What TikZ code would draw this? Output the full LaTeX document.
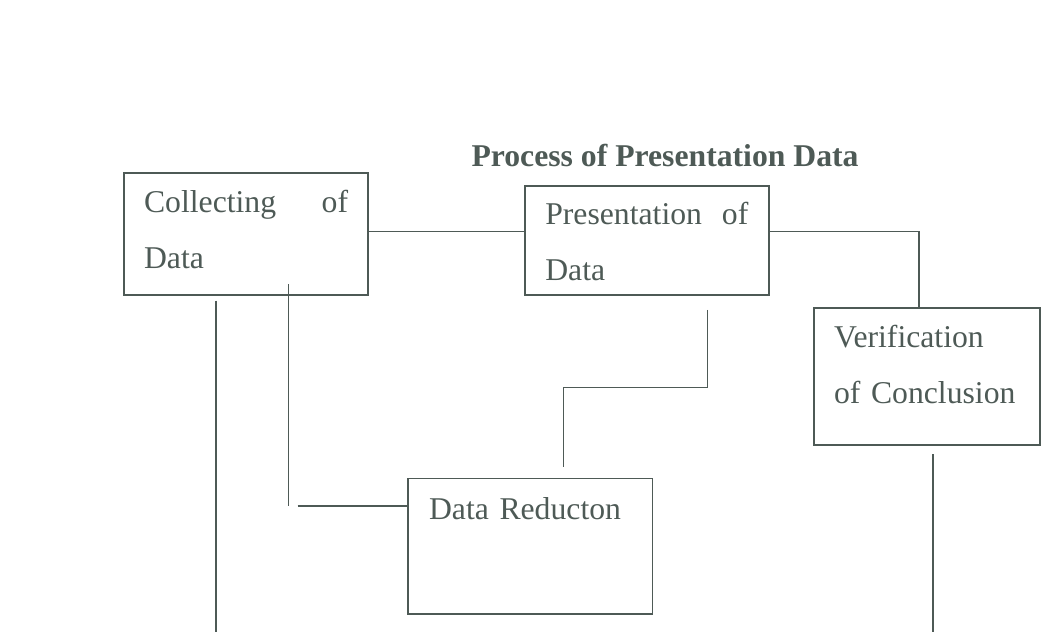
\documentclass[tikz,border=0pt]{standalone}
\usepackage{fontspec}
\setmainfont{Liberation Serif}
\usepackage{tikz}
\usetikzlibrary{positioning}
\definecolor{inkgrey}{RGB}{78,90,86}

\begin{document}
\begin{tikzpicture}[x=1pt, y=-1pt, line width=1.6pt, draw=inkgrey,
	stagebox/.style={draw=inkgrey, line width=1.6pt, anchor=north west, align=left, inner ysep=0pt,
		text=inkgrey, font=\fontsize{31.7}{56}\selectfont},
	heading/.style={anchor=base west, inner sep=0pt, text=inkgrey,
		font=\fontsize{31.7}{38}\selectfont\bfseries}]
		\useasboundingbox (0,0) rectangle (1054,632);
		\node[heading] (title) at (470.7,166.7) {Process of Presentation Data};
		\node[stagebox, inner xsep=20pt, text width=204pt, text height=40pt, text depth=82pt]
			(coll) at (123.3,172) {Collecting\hspace{0pt plus 1filll}of\\Data};
		\node[stagebox, inner xsep=20.5pt, text width=203pt, text height=39pt, text depth=70pt]
			(pres) at (524,185) {Presentation\hspace{0pt plus 1filll}of\\Data};
		\node[stagebox, inner xsep=20pt, text width=186pt, text height=39.4pt, text depth=97.3pt]
			(veri) at (813.3,307.3) {Verification\\of Conclusion};
		\node[stagebox, inner xsep=21pt, text width=202.4pt, text height=41.3pt, text depth=94.3pt]
			(redu) at (407.3,477.7) {Data Reducton};
		\coordinate (elbowA) at (918.7,231.5);
		\coordinate (turnB) at (288.3,506);
		\coordinate (turnC) at (707.3,387.3);
		\coordinate (turnD) at (563.3,387.3);
		\coordinate (trunk) at (215.7,632);
		\coordinate (tail) at (932.7,632);
		\draw (coll.east |- elbowA) -- (pres.west |- elbowA);
		\draw (pres.east |- elbowA) -| (veri.north -| elbowA);
		\draw (coll.south -| turnB) ++(0,-11.3) -- (turnB);
		\draw (turnB) ++(9.4,0) -- (redu.west |- turnB);
		\draw (pres.south -| turnC) ++(0,14.3) -- (turnC) -- (turnD) -- ([yshift=10.4pt]redu.north -| turnD);
		\draw (coll.south -| trunk) ++(0,5) -- (trunk);
		\draw (veri.south -| tail) ++(0,8.7) -- (tail);
\end{tikzpicture}
\end{document}
